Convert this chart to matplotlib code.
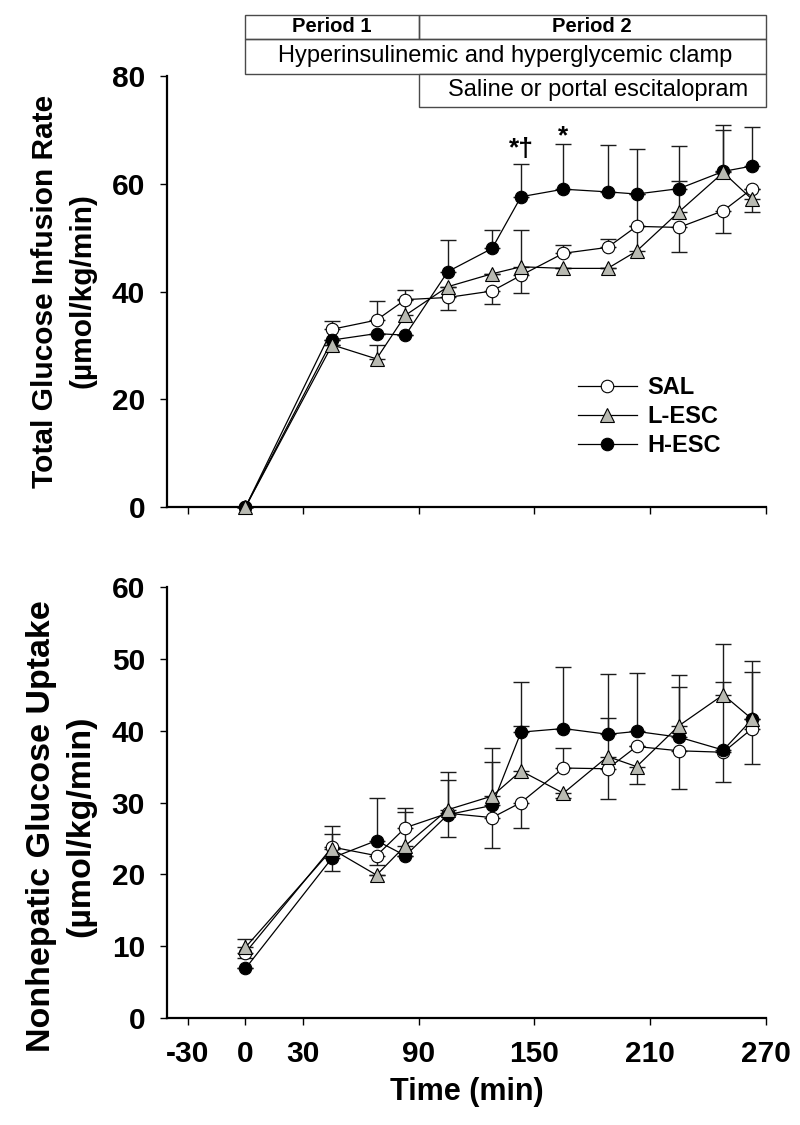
import matplotlib
matplotlib.use('Agg')
import matplotlib.pyplot as plt
import matplotlib.transforms as mtransforms
from matplotlib.patches import Rectangle

plt.rcParams['font.family'] = ['Liberation Sans', 'DejaVu Sans']
plt.rcParams['axes.unicode_minus'] = False

# ---------------- data ----------------
time = [0, 45, 68, 83, 105, 128, 143, 165, 188, 203, 225, 248, 263]

# Total glucose infusion rate
gir_sal = [0, 33.0, 34.7, 38.5, 38.9, 40.1, 43.0, 47.1, 48.2, 52.1, 51.9, 55.0, 59.1]
gir_sal_up = [0, 1.6, 3.6, 1.8, 0, 0, 0, 1.5, 1.5, 6.0, 0, 0, 0]
gir_sal_dn = [0, 0, 0, 0, 2.3, 2.4, 3.2, 0, 0, 0, 4.6, 4.1, 0]
gir_l = [0, 30.1, 27.5, 35.6, 40.9, 43.3, 44.6, 44.3, 44.3, 47.5, 54.8, 62.1, 57.1]
gir_l_up = [0, 0, 2.6, 3.0, 0, 0, 6.8, 0, 0, 4.6, 5.7, 7.8, 0]
gir_l_dn = [0, 0, 0, 0, 0, 0, 0, 0, 0, 0, 0, 0, 2.4]
gir_h = [0, 31.0, 32.2, 31.9, 43.7, 48.0, 57.6, 59.0, 58.5, 58.1, 59.1, 62.3, 63.3]
gir_h_up = [0, 0, 0, 0, 5.9, 3.5, 6.0, 8.3, 8.7, 8.3, 7.9, 8.6, 7.3]
gir_h_dn = [0] * 13

# Nonhepatic glucose uptake
ngu_sal = [9.1, 23.8, 22.6, 26.5, 28.5, 27.9, 30.0, 34.8, 34.7, 37.8, 37.2, 37.0, 40.3]
ngu_sal_up = [0, 2.9, 0, 2.7, 0, 0, 0, 2.8, 0, 0, 0, 0, 0]
ngu_sal_dn = [0.8, 0, 1.3, 0, 3.3, 4.2, 3.5, 0, 4.2, 0, 5.3, 4.1, 4.9]
ngu_l = [9.85, 23.5, 19.9, 24.0, 29.0, 30.9, 34.4, 31.3, 36.4, 35.0, 40.7, 45.0, 41.6]
ngu_l_up = [1.15, 2.1, 0, 4.7, 5.2, 6.7, 6.3, 0, 5.4, 0, 7.0, 7.0, 6.6]
ngu_l_dn = [0, 0, 0, 0, 0, 0, 0, 0.7, 0, 2.4, 0, 0, 0]
ngu_h = [6.9, 22.3, 24.7, 22.6, 28.3, 29.6, 39.8, 40.3, 39.5, 39.9, 39.1, 37.3, 41.6]
ngu_h_up = [0, 0, 5.9, 0, 4.8, 6.0, 7.0, 8.6, 8.4, 8.2, 7.0, 9.5, 8.1]
ngu_h_dn = [0, 1.9, 0, 0, 0, 0, 0, 0, 0, 0, 0, 0, 0]

series_labels = ['SAL', 'L-ESC', 'H-ESC']
x_ticks = [-30, 0, 30, 90, 150, 210, 270]
gir_ticks = [0, 20, 40, 60, 80]
ngu_ticks = [0, 10, 20, 30, 40, 50, 60]

period_edges = [0, 90, 270]
period_labels = ['Period 1', 'Period 2']
clamp_label = 'Hyperinsulinemic and hyperglycemic clamp'
drug_label = 'Saline or portal escitalopram'

# ---------------- figure ----------------
fig = plt.figure(figsize=(8, 11.25), dpi=100)
ax1 = fig.add_axes([0.2091, 0.5493, 0.748, 0.3831])
ax2 = fig.add_axes([0.2091, 0.0951, 0.748, 0.3831])

styles = [
    dict(marker='o', mfc='white', ms=9),
    dict(marker='^', mfc='#b9bab2', ms=9.5),
    dict(marker='o', mfc='black', ms=9),
]


def draw(ax, vals, ups, dns):
    handles = []
    order = [0, 2, 1]  # SAL, H-ESC, L-ESC (L on top)
    for i in order:
        ax.errorbar(time, vals[i], yerr=[dns[i], ups[i]], fmt='none',
                    ecolor='#1c1c1c', elinewidth=1.0, capsize=5.5,
                    capthick=1.0, zorder=2, clip_on=False)
    for k, i in enumerate(order):
        st = styles[i]
        ln, = ax.plot(time, vals[i], color='black', lw=0.9,
                      marker=st['marker'], ms=st['ms'], mfc=st['mfc'],
                      mec='black', mew=0.8, zorder=3 + k, clip_on=False,
                      label=series_labels[i])
        handles.append((i, ln))
    handles.sort()
    return [h for _, h in handles]


h1 = draw(ax1, [gir_sal, gir_l, gir_h], [gir_sal_up, gir_l_up, gir_h_up],
          [gir_sal_dn, gir_l_dn, gir_h_dn])
draw(ax2, [ngu_sal, ngu_l, ngu_h], [ngu_sal_up, ngu_l_up, ngu_h_up],
     [ngu_sal_dn, ngu_l_dn, ngu_h_dn])

for ax, yt, ymax in [(ax1, gir_ticks, 80), (ax2, ngu_ticks, 60)]:
    ax.set_xlim(-40.6, 270)
    ax.set_ylim(0, ymax)
    ax.set_xticks(x_ticks)
    ax.set_yticks(yt)
    for s in ['top', 'right']:
        ax.spines[s].set_visible(False)
    for s in ['left', 'bottom']:
        ax.spines[s].set_linewidth(1.6)
    ax.tick_params(axis='both', direction='out', length=5, width=1.0,
                   labelsize=21.5, pad=11)
    for lab in ax.get_yticklabels() + ax.get_xticklabels():
        lab.set_fontweight('bold')

ax1.set_xticklabels([])
ax2.set_xlabel('Time (min)', fontsize=22, fontweight='bold', labelpad=6)

fig.text(64 / 800, 1 - 291 / 1125, 'Total Glucose Infusion Rate\n(\u00b5mol/kg/min)',
         rotation=90, ha='center', va='center', multialignment='center',
         fontsize=21.5, fontweight='bold', linespacing=1.42)
fig.text(61 / 800, 1 - 826 / 1125, 'Nonhepatic Glucose Uptake\n(\u00b5mol/kg/min)',
         rotation=90, ha='center', va='center', multialignment='center',
         fontsize=24.5, fontweight='bold', linespacing=1.35)

# significance marks
ax1.text(time[6], 65.2, '*\u2020', ha='center', va='baseline', fontsize=19,
         fontweight='bold')
ax1.text(time[7], 67.6, '*', ha='center', va='baseline', fontsize=19,
         fontweight='bold')

# legend
ax1.legend(handles=h1, loc='upper left',
           bbox_to_anchor=(578 / 800, 1 - 376 / 1125),
           bbox_transform=fig.transFigure, frameon=False,
           prop={'weight': 'bold', 'size': 17}, handlelength=2.48,
           handletextpad=0.45, labelspacing=0.25, borderpad=0,
           borderaxespad=0)

# header boxes
tr = mtransforms.blended_transform_factory(ax1.transData, fig.transFigure)
rows = [(15, 38.8), (38.8, 73.6), (73.6, 106.6)]


def fy(px):
    return 1 - px / 1125


box_kw = dict(transform=tr, fill=False, edgecolor='#4a4a4a', lw=1.0,
              clip_on=False)
# row 1: periods
for j in range(2):
    x0, x1 = period_edges[j], period_edges[j + 1]
    ax1.add_patch(Rectangle((x0, fy(rows[0][1])), x1 - x0,
                            fy(rows[0][0]) - fy(rows[0][1]), **box_kw))
    ax1.text((x0 + x1) / 2, fy(sum(rows[0]) / 2), period_labels[j],
             transform=tr, ha='center', va='center', fontsize=14.5,
             fontweight='bold')
# row 2: clamp
ax1.add_patch(Rectangle((period_edges[0], fy(rows[1][1])),
                        period_edges[2] - period_edges[0],
                        fy(rows[1][0]) - fy(rows[1][1]), **box_kw))
ax1.text((period_edges[0] + period_edges[2]) / 2, fy(sum(rows[1]) / 2),
         clamp_label, transform=tr, ha='center', va='center', fontsize=17)
# row 3: drug
ax1.add_patch(Rectangle((period_edges[1], fy(rows[2][1])),
                        period_edges[2] - period_edges[1],
                        fy(rows[2][0]) - fy(rows[2][1]),
                        **dict(box_kw, facecolor='white', fill=True, zorder=10)))
ax1.text((period_edges[1] + period_edges[2]) / 2 + 3, fy(sum(rows[2]) / 2),
         drug_label, transform=tr, ha='center', va='center', fontsize=17,
         zorder=11)

ax1.set_xlim(-40.6, 270)
fig.savefig('out.png', dpi=100, facecolor='white')
